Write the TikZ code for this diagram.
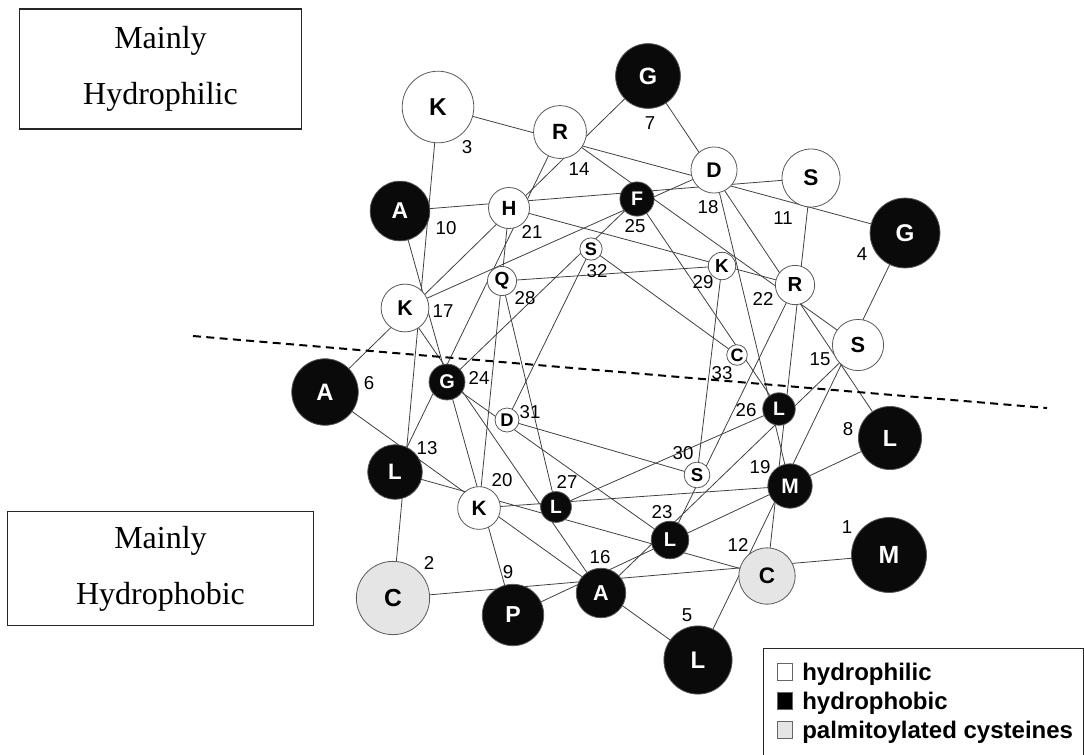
\documentclass[tikz,border=0pt]{standalone}
\usepackage{fontspec}
\setmainfont{Liberation Serif}
\setsansfont{Liberation Sans}
\usetikzlibrary{backgrounds,positioning}

\tikzset{
    res/.style={circle, draw=black!65, line width=0.6pt, inner sep=0pt},
    resw/.style={res, fill=white, text=black},
    resb/.style={res, fill=black!96, text=white},
    resg/.style={res, fill=black!10, text=black},
    bond/.style={draw=black!75, line width=0.6pt},
    resnum/.style={font=\sffamily\fontsize{14}{14}\selectfont, inner sep=0pt},
    region/.style={draw=black!85, line width=0.8pt, align=center, font=\fontsize{24}{42}\selectfont},
    legsq/.style={draw=black!60, line width=0.5pt, minimum width=11pt, minimum height=12.5pt, inner sep=0pt},
    legtext/.style={font=\sffamily\bfseries\fontsize{18}{18}\selectfont, inner sep=0pt, anchor=base west}
}

\begin{document}
\begin{tikzpicture}[x=0.75pt, y=-0.75pt]
        \useasboundingbox (0,0) rectangle (1084,754);
        % residues of the wheel, size shrinking along the chain
        \foreach \n/\x/\y/\res/\kind in {1/889/555/M/b, 2/393/598/C/g, 3/438/107/K/w, 4/905/233/G/b,
            5/698/660/L/b, 6/325/392/A/b, 7/648/76/G/b, 8/890/438/L/b, 9/513/615/P/b, 10/400/211/A/b,
            11/811/178/S/w, 12/767/576/C/g, 13/395/472/L/b, 14/560/132/R/w, 15/858/345/S/w,
            16/601/593/A/b, 17/405/308/K/w, 18/714/170/D/w, 19/790/486/M/b, 20/479/508/K/w,
            21/509/208/H/w, 22/795/285/R/w, 23/670/540/L/b, 24/447/382/G/b, 25/637/199/F/b,
            26/779/409/L/b, 27/556/507/L/b, 28/502/281/Q/w, 29/722/266/K/w, 30/697/475/S/w,
            31/507/420/D/w, 32/591/249/S/w, 33/737/355/C/w}
        {
            \pgfmathsetmacro\rad{37.5-0.85*(\n-1)}
            \pgfmathsetmacro\dia{1.5*\rad}
            \pgfmathsetmacro\fs{11.5+0.19*\rad}
            \node[res\kind, minimum size=\dia pt, font=\sffamily\bfseries\fontsize{\fs}{\fs}\selectfont] (r\n) at (\x,\y) {\res};
        }
        % bonds i to i+1, behind the circles
        \begin{pgfonlayer}{background}
            \foreach \i [evaluate=\i as \j using int(\i+1)] in {1,...,32}
                \draw[bond] (r\i.center) -- (r\j.center);
        \end{pgfonlayer}
        % residue numbers
        \foreach \n/\x/\y in {1/847/527, 2/429/563, 3/467/147, 4/862/254, 5/687/615, 6/369/383,
            7/650/123, 8/848/429, 9/508/572, 10/446/228, 11/783/218, 12/738/545, 13/427/448,
            14/579/169, 15/820/359, 16/600/557, 17/443/311, 18/708/207, 19/760/467, 20/502/480,
            21/532/232, 22/763/299, 23/662/512, 24/479/378, 25/635/226, 26/746/410, 27/567/482,
            28/525/298, 29/703/282, 30/683/453, 31/530/412, 32/597/271, 33/722/373}
            \node[resnum] (l\n) at (\x,\y) {\n};
        % dividing line
        \coordinate (dl) at (193,336);
        \coordinate (dr) at (1047,408);
        \draw[line width=1.5pt, dash pattern=on 6pt off 4pt] (dl) -- (dr);
        % the two faces
        \node[region, minimum width=212pt, minimum height=90pt] (philic) at (160.5,69) {Mainly\\Hydrophilic};
        \node[region, minimum width=230pt, minimum height=86pt] (phobic) at (160.5,568.5) {Mainly\\Hydrophobic};
        % legend
        \node[draw=black!85, line width=0.8pt, anchor=north west, minimum width=240pt, minimum height=84pt, inner sep=0pt] (legend) at (763,648) {};
        \node[legsq, fill=white] (kw) at (784.5,672) {};
        \node[legsq, fill=black] (kb) at (784.5,701) {};
        \node[legsq, fill=black!10] (kg) at (784.5,730) {};
        \node[legtext] (tw) at (802,680) {hydrophilic};
        \node[legtext] (tb) at (802,709) {hydrophobic};
        \node[legtext] (tg) at (802,738) {palmitoylated cysteines};
    \end{tikzpicture}
\end{document}
